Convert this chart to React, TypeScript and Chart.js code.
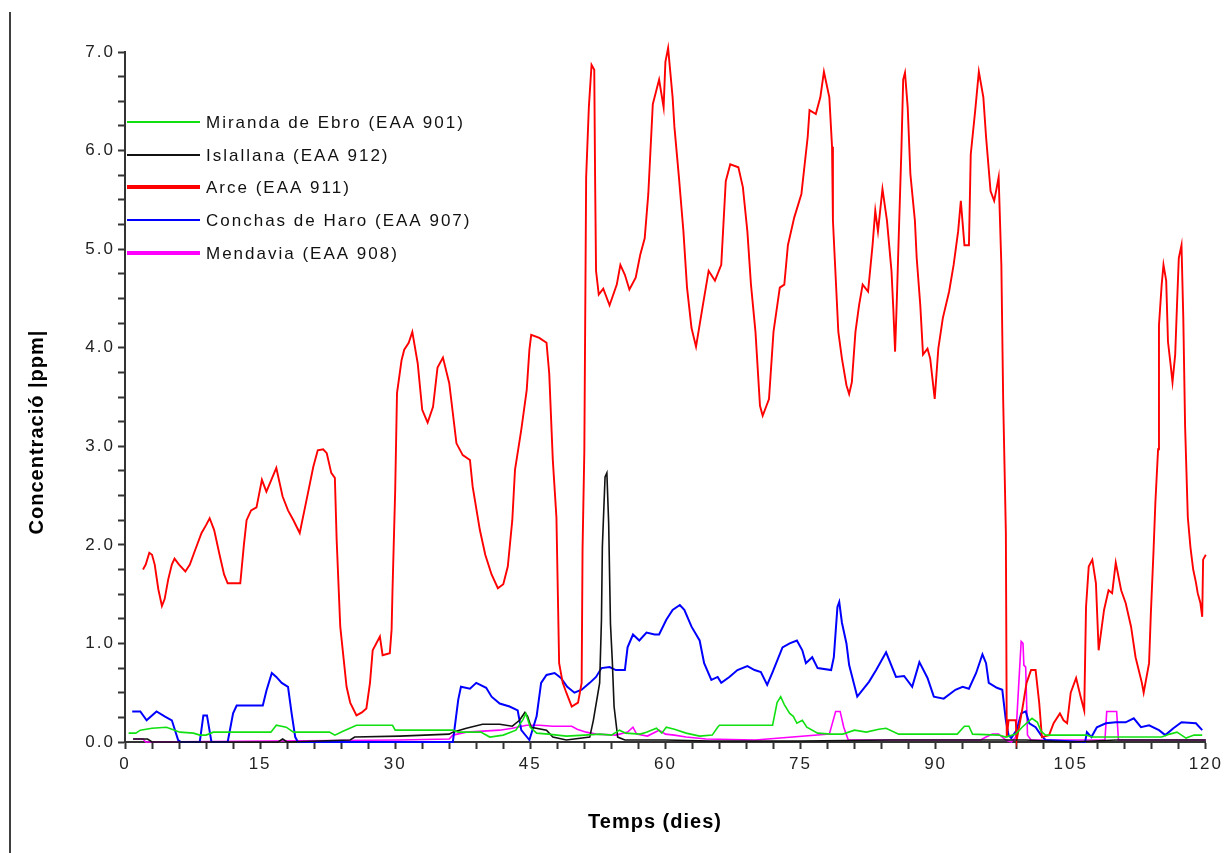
import React, { useEffect, useRef } from "react";
import { Chart, registerables } from "chart.js";

Chart.register(...registerables);

// ---- Data (days, ppm) ----
const arceDays = [2.0,2.3,2.7,3.0,3.3,3.7,4.1,4.4,4.8,5.2,5.5,6.0,6.7,7.2,7.8,8.5,9.0,9.4,9.9,10.5,11.0,11.4,12.8,13.2,13.5,14.0,14.6,15.2,15.7,16.2,16.8,17.5,18.1,18.7,19.4,20.3,20.9,21.4,22.0,22.4,22.9,23.3,23.5,23.9,24.6,25.0,25.7,26.3,26.8,27.2,27.5,28.3,28.6,29.4,29.6,29.7,30.0,30.2,30.7,31.0,31.5,31.9,32.5,33.0,33.6,34.2,34.7,35.3,36.0,36.8,37.5,38.3,38.6,39.4,40.0,40.7,41.4,42.0,42.5,43.0,43.3,44.0,44.6,44.9,45.1,46.0,46.8,47.1,47.5,47.9,48.2,48.6,49.0,49.6,50.3,50.7,50.8,51.0,51.2,51.5,51.8,52.1,52.2,52.3,52.6,53.1,53.8,54.6,55.0,55.5,56.0,56.7,57.2,57.7,58.1,58.6,59.3,59.8,60.0,60.3,60.8,61.0,61.5,62.0,62.4,62.9,63.4,64.1,64.8,65.5,66.2,66.7,67.2,68.1,68.6,69.1,69.5,70.0,70.5,70.8,71.5,72.0,72.7,73.2,73.6,74.3,75.1,75.8,76.0,76.7,77.2,77.6,78.2,78.5,78.6,78.8,79.2,79.6,80.1,80.4,80.7,81.1,81.5,81.9,82.5,83.0,83.3,83.6,84.1,84.6,85.1,85.3,85.5,85.7,85.9,86.2,86.4,86.6,86.9,87.2,87.7,87.9,88.3,88.6,89.1,89.4,89.9,90.3,90.8,91.5,92.0,92.5,92.8,93.2,93.7,93.9,94.4,94.8,95.3,95.6,96.1,96.5,96.8,97.0,97.3,97.5,97.8,97.9,98.1,98.9,99.0,99.6,100.1,100.6,101.1,101.5,101.8,102.6,103.1,103.8,104.2,104.6,105.0,105.6,106.1,106.5,106.7,107.0,107.4,107.8,108.1,108.7,109.2,109.6,110.0,110.6,111.1,111.7,112.2,112.9,113.1,113.7,113.9,114.2,114.4,114.7,114.8,115.1,115.3,115.6,115.8,116.1,116.3,116.6,116.8,117.0,117.3,117.5,117.7,118.0,118.3,118.6,118.9,119.1,119.4,119.6,119.7,120.0];
const arceVals = [1.75,1.8,1.92,1.9,1.8,1.55,1.38,1.45,1.65,1.8,1.86,1.8,1.73,1.8,1.95,2.12,2.2,2.27,2.15,1.9,1.7,1.61,1.61,2.0,2.25,2.35,2.38,2.66,2.54,2.65,2.78,2.49,2.35,2.25,2.12,2.52,2.79,2.96,2.97,2.93,2.73,2.68,2.05,1.17,0.56,0.4,0.27,0.3,0.34,0.6,0.93,1.07,0.88,0.9,1.14,1.54,2.56,3.54,3.87,3.98,4.05,4.16,3.84,3.37,3.24,3.4,3.8,3.9,3.64,3.03,2.91,2.86,2.59,2.15,1.9,1.7,1.56,1.6,1.78,2.25,2.76,3.17,3.57,3.98,4.13,4.1,4.05,3.74,2.86,2.28,0.8,0.6,0.5,0.36,0.4,0.6,1.95,2.96,5.73,6.44,6.87,6.82,5.66,4.78,4.54,4.6,4.43,4.64,4.84,4.74,4.59,4.71,4.94,5.11,5.56,6.47,6.72,6.44,6.9,7.04,6.54,6.24,5.73,5.18,4.61,4.2,4.01,4.4,4.78,4.68,4.84,5.69,5.86,5.83,5.63,5.18,4.64,4.16,3.41,3.31,3.48,4.16,4.61,4.64,5.04,5.32,5.56,6.14,6.41,6.37,6.54,6.8,6.54,6.04,5.29,4.91,4.16,3.89,3.62,3.53,3.65,4.16,4.43,4.64,4.57,5.04,5.39,5.18,5.61,5.29,4.78,4.4,3.96,4.5,5.11,6.0,6.72,6.79,6.44,5.76,5.29,4.91,4.43,3.93,3.99,3.89,3.48,3.99,4.3,4.57,4.84,5.18,5.49,5.04,5.04,5.96,6.41,6.8,6.54,6.14,5.59,5.49,5.63,5.73,4.84,3.48,2.12,0.05,0.22,0.22,0.02,0.32,0.6,0.73,0.73,0.4,0.05,0.07,0.19,0.29,0.22,0.19,0.5,0.65,0.46,0.32,1.37,1.78,1.85,1.61,0.93,1.34,1.54,1.51,1.82,1.54,1.41,1.17,0.86,0.6,0.5,0.8,1.31,1.95,2.43,2.97,4.23,4.64,4.84,4.68,4.06,3.82,3.65,3.93,4.43,4.91,5.04,4.3,3.2,2.28,1.97,1.75,1.62,1.51,1.41,1.27,1.85,1.9];

const conchasDays = [0.8,1.7,2.4,3.5,4.4,5.2,5.9,6.2,8.3,8.7,9.1,9.6,11.4,12.0,12.4,15.3,15.7,16.3,16.8,17.4,18.1,18.5,18.9,19.2,36.4,37.0,37.3,38.3,39.0,40.1,40.7,41.6,42.7,43.6,44.0,44.9,45.7,46.2,46.8,47.7,48.4,49.1,49.9,50.7,51.6,52.3,52.9,53.8,54.5,55.5,55.8,56.4,57.1,57.9,58.8,59.3,60.1,60.8,61.6,62.1,62.9,63.8,64.3,65.1,65.8,66.2,67.1,68.0,69.1,69.9,70.6,71.3,71.9,73.0,73.8,74.6,75.2,75.6,76.3,76.9,78.4,78.7,79.1,79.3,79.6,80.1,80.4,81.3,82.6,83.4,84.5,85.6,86.5,87.4,88.2,89.1,89.8,90.9,92.2,93.0,93.7,94.5,95.2,95.6,95.9,96.8,97.4,97.8,98.1,98.4,99.0,99.5,100.0,100.4,101.1,101.7,102.2,106.6,106.8,107.3,107.9,108.9,110.0,111.1,112.0,112.8,113.7,114.8,115.5,116.4,117.3,118.9,119.6];
const conchasVals = [0.31,0.31,0.22,0.31,0.26,0.22,0.02,0,0,0.27,0.27,0,0,0.29,0.37,0.37,0.52,0.7,0.66,0.6,0.56,0.29,0.05,0,0,0.43,0.56,0.54,0.6,0.55,0.46,0.39,0.36,0.32,0.12,0.02,0.26,0.6,0.68,0.7,0.65,0.56,0.5,0.53,0.6,0.66,0.75,0.76,0.73,0.73,0.96,1.09,1.03,1.11,1.09,1.09,1.24,1.34,1.39,1.34,1.17,1.03,0.8,0.63,0.66,0.6,0.66,0.73,0.77,0.73,0.71,0.58,0.71,0.96,1.0,1.03,0.93,0.8,0.86,0.75,0.73,0.86,1.37,1.42,1.21,1.0,0.78,0.46,0.61,0.73,0.91,0.66,0.67,0.56,0.81,0.65,0.46,0.44,0.53,0.56,0.54,0.7,0.89,0.8,0.6,0.55,0.53,0.22,0.07,0.04,0.12,0.29,0.31,0.19,0.15,0.07,0.02,0.0,0.1,0.05,0.15,0.19,0.2,0.2,0.24,0.15,0.17,0.12,0.07,0.14,0.2,0.19,0.12];

const mirandaDays = [0.4,1.2,1.7,3.0,4.6,5.2,6.1,7.6,8.3,9.0,9.8,16.2,16.8,17.9,18.7,22.7,23.3,24.2,25.7,29.7,30.0,36.4,37.0,39.5,40.5,42.0,43.4,44.2,44.5,45.0,45.7,47.0,49.0,51.0,52.7,54.0,54.9,55.6,57.2,57.9,59.0,59.6,60.1,61.0,62.3,63.8,65.2,65.8,66.0,71.9,72.4,72.8,73.2,73.8,74.2,74.6,75.2,75.7,76.9,78.4,79.7,81.0,82.3,83.7,84.5,85.9,92.4,93.2,93.7,94.1,97.0,97.8,98.9,99.6,100.7,101.3,101.7,102.2,106.7,107.4,115.1,116.0,116.8,117.8,118.7,119.6];
const mirandaVals = [0.09,0.09,0.12,0.14,0.15,0.13,0.1,0.09,0.07,0.07,0.1,0.1,0.17,0.15,0.1,0.1,0.07,0.11,0.17,0.17,0.12,0.12,0.1,0.1,0.05,0.07,0.12,0.23,0.29,0.15,0.09,0.08,0.06,0.07,0.08,0.07,0.12,0.09,0.08,0.1,0.14,0.09,0.15,0.13,0.09,0.06,0.07,0.15,0.17,0.17,0.4,0.46,0.38,0.29,0.26,0.19,0.22,0.15,0.09,0.08,0.08,0.12,0.1,0.13,0.14,0.08,0.08,0.16,0.16,0.08,0.07,0.05,0.08,0.15,0.24,0.2,0.11,0.07,0.07,0.05,0.05,0.08,0.1,0.04,0.07,0.07];

const islallanaDays = [0.9,2.5,3.0,17.0,17.5,18.0,25.0,25.5,30.5,36.0,36.4,37.9,39.7,41.6,43.0,43.8,44.4,44.7,45.1,46.8,47.5,49.0,51.6,52.0,52.7,52.9,53.0,53.3,53.5,53.7,53.9,54.1,54.3,54.7,55.5,60,65,75,85,95,100,105,110,120];
const islallanaVals = [0.03,0.03,0.0,0.0,0.03,0.0,0.02,0.05,0.06,0.08,0.1,0.14,0.18,0.18,0.16,0.22,0.3,0.26,0.15,0.12,0.05,0.02,0.05,0.22,0.6,1.24,1.98,2.69,2.73,2.22,1.2,0.83,0.36,0.05,0.02,0.02,0.01,0.01,0.02,0.02,0.02,0.0,0.02,0.02];

const mendaviaDays = [0.9,2.0,2.3,30.5,36.0,36.4,37.9,41.6,43.0,44.6,46.0,47.5,49.6,50.2,51.2,52.3,54.5,55.8,56.4,56.8,58.0,59.3,60.0,61.0,62.3,64.5,70,78.2,78.9,79.4,79.8,80.3,95.0,95.6,96.3,97.0,97.8,98.4,98.9,99.3,99.5,99.7,99.8,100.0,100.2,100.6,108.8,109.0,110.1,110.3,120];
const mendaviaVals = [0.03,0.03,0.0,0.02,0.03,0.07,0.1,0.12,0.14,0.17,0.17,0.16,0.16,0.13,0.1,0.08,0.07,0.1,0.15,0.08,0.06,0.12,0.08,0.07,0.05,0.03,0.02,0.08,0.31,0.31,0.15,0.02,0.02,0.05,0.08,0.08,0.02,0.0,0.05,0.7,1.02,1.0,0.78,0.76,0.07,0.02,0.02,0.31,0.31,0.02,0.02];

const seriesNames = [
  "Miranda de Ebro (EAA 901)",
  "Islallana (EAA 912)",
  "Arce (EAA 911)",
  "Conchas de Haro (EAA 907)",
  "Mendavia (EAA 908)",
];
const seriesColors = ["#10e010", "#111111", "#ff0000", "#0000ff", "#ff00ff"];
const xTickStep = 3;
const xLabelEvery = 15;
const yTickStep = 0.25;

const toPoints = (d: number[], v: number[]) => d.map((x, i) => ({ x, y: v[i] }));

const FONT = "'Liberation Sans', Arial, sans-serif";

const decorPlugin = {
  id: "decor",
  beforeDraw(chart: any) {
    chart.ctx.letterSpacing = "2px";
  },
  afterDraw(chart: any) {
    const ctx = chart.ctx as CanvasRenderingContext2D;
    ctx.save();
    // left frame line
    ctx.strokeStyle = "#000";
    ctx.lineWidth = 1.5;
    ctx.beginPath();
    ctx.moveTo(10, 12);
    ctx.lineTo(10, 853);
    ctx.stroke();

    // legend
    const rows = [122, 155, 187, 220, 253];
    const widths = [2, 2, 4, 2, 4];
    ctx.letterSpacing = "2px";
    ctx.font = `17px ${FONT}`;
    ctx.textBaseline = "middle";
    ctx.textAlign = "left";
    seriesNames.forEach((name, i) => {
      ctx.strokeStyle = seriesColors[i];
      ctx.lineWidth = widths[i];
      ctx.beginPath();
      ctx.moveTo(127, rows[i]);
      ctx.lineTo(200, rows[i]);
      ctx.stroke();
      ctx.fillStyle = "#111";
      ctx.fillText(name, 206, rows[i] + 1);
    });

    // axis titles
    ctx.fillStyle = "#000";
    ctx.font = `bold 20px ${FONT}`;
    ctx.letterSpacing = "1px";
    ctx.textAlign = "center";
    ctx.fillText("Temps (dies)", 655, 822);
    ctx.translate(37, 432);
    ctx.rotate(-Math.PI / 2);
    ctx.fillText("Concentració |ppm|", 0, 0);
    ctx.restore();
  },
};

export default function App() {
  const ref = useRef<HTMLCanvasElement>(null);
  useEffect(() => {
    if (!ref.current) return;
    const series = [
      toPoints(mirandaDays, mirandaVals),
      toPoints(islallanaDays, islallanaVals),
      toPoints(arceDays, arceVals),
      toPoints(conchasDays, conchasVals),
      toPoints(mendaviaDays, mendaviaVals),
    ];
    const lw = [1.6, 1.6, 1.9, 2, 1.6];
    const tickFont = { family: FONT, size: 17 };
    const chart = new Chart(ref.current, {
      type: "scatter",
      data: {
        datasets: series.map((data, i) => ({
          label: seriesNames[i],
          data,
          showLine: true,
          borderColor: seriesColors[i],
          backgroundColor: seriesColors[i],
          borderWidth: lw[i],
          pointRadius: 0,
          tension: 0,
          clip: false,
        })),
      },
      options: {
        animation: false,
        responsive: false,
        layout: { padding: { left: 0, top: 52, right: 16, bottom: 0 } },
        plugins: { legend: { display: false }, tooltip: { enabled: false } },
        scales: {
          x: {
            type: "linear",
            min: 0,
            max: 120,
            afterFit: (s: any) => { s.height = 111; },
            ticks: {
              stepSize: xTickStep,
              autoSkip: false,
              maxRotation: 0,
              padding: 5,
              color: "#222",
              font: tickFont,
              callback: (v: any) => (Math.round(v) % xLabelEvery === 0 ? String(v) : ""),
            },
            grid: { drawOnChartArea: false, drawTicks: true, tickLength: 7, tickWidth: 2, tickColor: "#333" },
            border: { display: true, color: "#333", width: 2 },
          },
          y: {
            type: "linear",
            min: 0,
            max: 7,
            afterFit: (s: any) => { s.width = 125; },
            ticks: {
              stepSize: yTickStep,
              autoSkip: false,
              padding: 3,
              color: "#222",
              font: tickFont,
              callback: (v: any) => (Math.abs(v - Math.round(v)) < 1e-6 ? Number(v).toFixed(1) : ""),
            },
            grid: { drawOnChartArea: false, drawTicks: true, tickLength: 7, tickWidth: 2, tickColor: "#333" },
            border: { display: true, color: "#333", width: 2 },
          },
        },
      },
      plugins: [decorPlugin],
    });
    return () => chart.destroy();
  }, []);
  return (
    <div style={{ position: "absolute", left: 0, top: 0, width: 1225, height: 853, background: "#fff" }}>
      <canvas ref={ref} width={1225} height={853} style={{ display: "block" }} />
    </div>
  );
}
